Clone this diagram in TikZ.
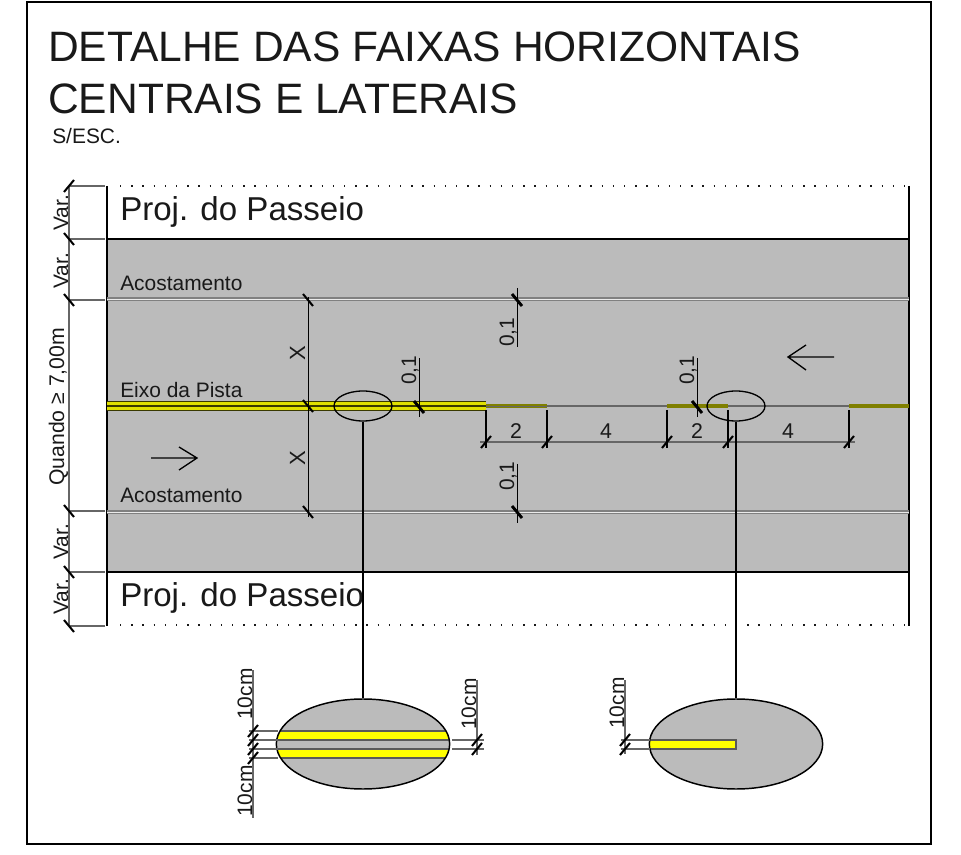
\documentclass[tikz,border=0pt]{standalone}
\usepackage{fontspec}
\setmainfont{Liberation Sans}
\usetikzlibrary{shapes.geometric,calc}
\definecolor{road}{HTML}{BBBBBB}
\definecolor{stripe}{HTML}{FFFF00}
\definecolor{olive}{HTML}{7F7F00}
\tikzset{
  x=0.75pt,y=-0.75pt,
  ln/.style={line width=1pt,black},
  gr/.style={line width=0.9pt,black!60},
  tick/.style={line width=1.5pt,black},
  lbl/.style={inner sep=0pt,anchor=base west,text=black!90},
  vlbl/.style={inner sep=0pt,anchor=base west,rotate=90,text=black!90},
  hlblm/.style={inner sep=0pt,anchor=base,text=black!90},
  txts/.style={font=\fontsize{15.7}{18}\selectfont},
  lens/.style={draw=black,line width=1pt,ellipse,inner sep=0pt,minimum width=43.5pt,minimum height=22.5pt},
  bigfill/.style={ellipse,fill=road,inner sep=0pt,minimum width=130pt,minimum height=67.5pt},
  bigline/.style={draw=black,line width=1.1pt,ellipse,inner sep=0pt,minimum width=130pt,minimum height=67.5pt},
  dots/.style={line width=1.1pt,black!90,dash pattern=on 1.1pt off 7.3pt},
}
\newcommand{\tn}[2]{\draw[tick] ($(#1,#2)+(-5,-6)$) -- ($(#1,#2)+(5,6)$);}
\newcommand{\tp}[2]{\draw[tick] ($(#1,#2)+(-5,6)$) -- ($(#1,#2)+(5,-6)$);}
\begin{document}
\begin{tikzpicture}
\useasboundingbox (0,0) rectangle (961,855);
\fill[white] (0,0) rectangle (961,855);
\draw[line width=1pt,black] (27,2) rectangle (931,844);
% title
\node[lbl,font=\fontsize{31.9}{36}\selectfont] (t1) at (48,62) {DETALHE DAS FAIXAS HORIZONTAIS};
\node[lbl,font=\fontsize{31.9}{36}\selectfont] (t2) at (48,114) {CENTRAIS E LATERAIS};
\node[lbl,txts] (t3) at (52,144) {S/ESC.};
% road
\fill[road] (107,239) rectangle (909,572);
\draw[ln] (107,239) -- (909,239);
\draw[ln] (107,572) -- (909,572);
\draw[ln] (107,186) -- (107,626);
\draw[ln] (909,186) -- (909,626);
\draw[dots] (120,186) -- (908,186);
\draw[dots] (120,625) -- (908,625);
% shoulders
\foreach \yy in {298,511}{
  \fill[black!50] (107,\yy-0.5) rectangle (909,\yy+3.5);
  \fill[white!92!black] (107,\yy+0.9) rectangle (909,\yy+2.1);
}
% axis
\draw[gr,line width=1pt] (547,406) -- (849,406);
\fill[black!55!olive] (107,401) rectangle (486,411);
\fill[stripe!88!black] (107,402.4) rectangle (486,405);
\fill[stripe!88!black] (107,407.2) rectangle (486,409.8);
\fill[olive] (486,404) rectangle (547,408);
\fill[olive] (667,404) rectangle (728,408);
\fill[olive] (849,404) rectangle (909,408);
\fill[black!60] (486,405.6) rectangle (547,406.4);
% left dimension chain
\draw[gr] (69,186) -- (69,626);
\foreach \yy in {186,239,300,511,572,626}{\draw[gr] (69,\yy) -- (105,\yy);}
\tp{69}{186}\tn{69}{239}\tn{69}{300}\tn{69}{511}\tn{69}{572}\tn{69}{626}
\node[vlbl,txts] (v1) at (68,231) {Var.};
\node[vlbl,txts] (v2) at (68,289) {Var.};
\node[vlbl,txts] (v3) at (68,560) {Var.};
\node[vlbl,txts] (v4) at (68,615) {Var.};
\node[vlbl,txts,font=\fontsize{15.9}{18}\selectfont] (q) at (64,486) {Quando ≥ 7,00m};
% texts
\node[lbl,font=\fontsize{24.8}{28}\selectfont] (p1) at (120,221) {Proj. do Passeio};
\node[lbl,font=\fontsize{24.8}{28}\selectfont] (p2) at (120,606) {Proj. do Passeio};
\node[lbl,txts] (a1) at (120,291) {Acostamento};
\node[lbl,txts] (e) at (120,398) {Eixo da Pista};
\node[lbl,txts] (a2) at (120,503) {Acostamento};
% X dimension
\draw[line width=0.7pt,black] (308,297) -- (308,517);
\tn{308}{300}\tn{308}{406}\tn{308}{512}
\node[vlbl,font=\fontsize{16.5}{18}\selectfont,anchor=base] (x1) at (305,353) {X};
\node[vlbl,font=\fontsize{16.5}{18}\selectfont,anchor=base] (x2) at (305,458) {X};
% 0,1 dimensions
\draw[line width=0.7pt,black] (517,288) -- (517,347);
\draw[line width=0.7pt,black] (517,464) -- (517,523);
\draw[line width=0.7pt,black] (419,358) -- (419,417);
\draw[line width=0.7pt,black] (697,358) -- (697,417);
\begin{scope}[line width=2.2pt]
\draw[black] (512,294) -- (522,306);
\draw[black] (512,506) -- (522,518);
\draw[black] (414,401) -- (424,413);
\draw[black] (692,401) -- (702,413);
\end{scope}
\node[vlbl,txts] (d1) at (514,347) {0,1};
\node[vlbl,txts] (d2) at (514,491) {0,1};
\node[vlbl,txts] (d3) at (416,385) {0,1};
\node[vlbl,txts] (d4) at (694,385) {0,1};
% horizontal dimension
\draw[gr,line width=1pt] (480,442) -- (855,442);
\foreach \xx in {486,547,667,728,849}{
  \draw[line width=0.8pt,black] (\xx,410) -- (\xx,448);
  \tp{\xx}{442}
}
\node[hlblm,font=\fontsize{16}{18}\selectfont] (n1) at (516,439) {2};
\node[hlblm,font=\fontsize{16}{18}\selectfont] (n2) at (606,439) {4};
\node[hlblm,font=\fontsize{16}{18}\selectfont] (n3) at (697,439) {2};
\node[hlblm,font=\fontsize{16}{18}\selectfont] (n4) at (788,439) {4};
% direction arrows
\draw[line width=1pt,black] (151,458) -- (197,458) (179,447) -- (197,458) -- (179,470);
\draw[line width=1pt,black] (834,357) -- (788,357) (806,345) -- (788,357) -- (806,370);
% lens marks
\node[lens] (e1) at (363,406) {};
\node[lens] (e2) at (736,406) {};
% big ellipses
\node[bigfill] (b1) at (363,744) {};
\node[bigfill] (b2) at (736,744) {};
\begin{scope}
\clip (363,744) ellipse [x radius=86.7,y radius=45];
\fill[stripe] (270,731) rectangle (460,740);
\fill[stripe] (270,749) rectangle (460,758);
\draw[line width=0.9pt,black!65] (270,731) -- (460,731) (270,740) -- (460,740) (270,749) -- (460,749) (270,758) -- (460,758);
\end{scope}
\begin{scope}
\clip (736,744) ellipse [x radius=86.7,y radius=45];
\fill[stripe,draw=black!65,line width=0.9pt] (640,740) rectangle (736,749);
\end{scope}
\node[bigline] (b1o) at (363,744) {};
\node[bigline] (b2o) at (736,744) {};
\draw[line width=1pt,black] (e1.south) -- (b1o.north);
\draw[line width=1pt,black] (e2.south) -- (b2o.north);
% detail dims left
\draw[gr] (253,670) -- (253,818);
\foreach \yy in {731,740,749,758}{\draw[gr] (249,\yy) -- (278,\yy); \tp{253}{\yy}}
\node[vlbl,txts] (c1) at (252,720) {10cm};
\node[vlbl,txts] (c2) at (252,817) {10cm};
% detail dims right
\draw[gr] (477,680) -- (477,755);
\foreach \yy in {740,749}{\draw[gr] (452,\yy) -- (484,\yy); \tp{477}{\yy}}
\node[vlbl,txts] (c3) at (476,730) {10cm};
% detail dims second
\draw[gr] (625,680) -- (625,754);
\foreach \yy in {740,749}{\draw[gr] (621,\yy) -- (650,\yy); \tp{625}{\yy}}
\node[vlbl,txts] (c4) at (624,729) {10cm};
\end{tikzpicture}
\end{document}
